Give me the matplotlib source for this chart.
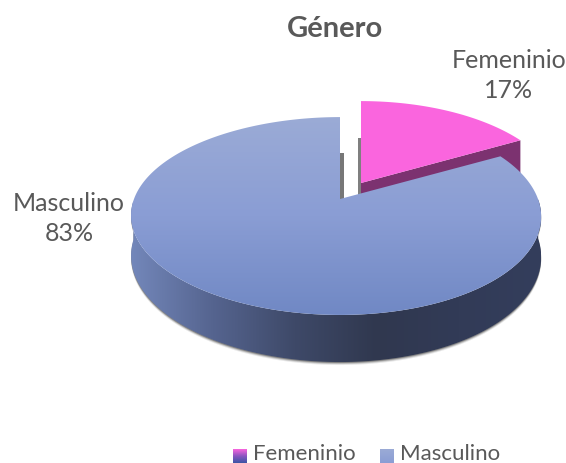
import numpy as np
import matplotlib
matplotlib.use("Agg")
import matplotlib.pyplot as plt
from matplotlib.colors import LinearSegmentedColormap
from matplotlib.patches import Polygon

generos = ["Femeninio", "Masculino"]
porcentajes = [17, 83]
titulo = "Género"

plt.rcParams['font.family'] = ['Lato', 'DejaVu Sans']
gris = "#595959"

fig = plt.figure(figsize=(5.66, 4.63), dpi=100)
ax = fig.add_axes([0, 0, 1, 1])

# the pie only gives the angles, the 3d look is drawn from them below
wedges, _ = ax.pie(porcentajes, startangle=90, counterclock=False)
angulos = [(w.theta1, w.theta2) for w in wedges]
for w in wedges:
    w.remove()

ax.set_aspect('auto')
ax.set_xlim(0, 566)
ax.set_ylim(463, 0)
ax.axis('off')

k = -0.172
A = 96
B = 202
H = 39


def proyectar(u, v, cx, cy, alto=0, encoger=4):
    # u right, v down on the unit circle, perspective on v
    w = 1 + k * v
    x = cx + B * u / w - encoger * (1 - v ** 2)
    y = cy + (A * v + alto) / w
    return x, y


def arco(t1, t2, n=300):
    t = np.radians(np.linspace(t1, t2, n))
    return np.cos(t), -np.sin(t)


def degradado(poly, colores, extent, vertical=True, z=1):
    cmap = LinearSegmentedColormap.from_list("g", colores)
    g = np.linspace(0, 1, 256)
    g = g.reshape(-1, 1) if vertical else g.reshape(1, -1)
    im = ax.imshow(g, cmap=cmap, extent=extent, aspect='auto', zorder=z, origin='upper')
    parche = Polygon(poly, closed=True, transform=ax.transData, fc='none', ec='none')
    ax.add_patch(parche)
    im.set_clip_path(parche)


fem, mas = angulos
fem_c = (361, 183)
mas_c = (340, 199)

# feminine side wall and top
u, v = arco(*fem)
xt, yt = proyectar(u * 0.975, v, *fem_c, encoger=0)
xr, yr = xt[0], yt[0]
ax.add_patch(Polygon([fem_c, (xr, yr), (xr, yr + 36), (fem_c[0], fem_c[1] + 36)],
                     fc="#7C3270", ec='none', zorder=1))
ax.add_patch(Polygon(np.column_stack([np.r_[fem_c[0], xt], np.r_[fem_c[1], yt]]),
                     fc="#FA65DE", ec='none', zorder=2))
ax.add_patch(Polygon([(358, 138), (361, 138), (361, 196), (358, 196)], fc="#7f7f7f", ec='none', zorder=2))

# masculine shadow, wall (front half only) and top
u, v = arco(*mas)
xt, yt = proyectar(u, v, *mas_c)
xb, yb = proyectar(u, v, *mas_c, alto=H)
frente = v >= 0
orden = np.argsort(u[frente])
xtf, ytf = xt[frente][orden], yt[frente][orden]
xbf, ybf = xb[frente][orden], yb[frente][orden]
pared = np.column_stack([np.r_[xtf, xbf[::-1]], np.r_[ytf, ybf[::-1]]])
for i, alfa in zip([3, 2, 1], [0.12, 0.25, 0.45]):
    ax.add_patch(Polygon(pared + [0, i], fc="#404040", alpha=alfa, ec='none', zorder=3))
degradado(pared, ["#7387BA", "#55648F", "#3E4968", "#30384F", "#323B57", "#343E5C"], [131, 541, 370, 100], vertical=False, z=4)
ax.add_patch(Polygon([(340, 153), (344, 153), (344, 205), (340, 205)], fc="#777777", ec='none', zorder=4))
tapa = np.column_stack([np.r_[mas_c[0], xt], np.r_[mas_c[1], yt]])
degradado(tapa, ["#9BABD6", "#8A9DD4", "#7088C4"], [125, 545, 316, 116], z=5)

ax.text(334.5, 29, titulo, ha='center', va='center', fontsize=21, fontweight='bold', color=gris)
ax.text(509, 75.5, f"{generos[0]}\n{porcentajes[0]}%", ha='center', va='center', fontsize=18,
        color=gris, linespacing=1.4)
ax.text(69, 218.5, f"{generos[1]}\n{porcentajes[1]}%", ha='center', va='center', fontsize=18,
        color=gris, linespacing=1.4)

# legend, cut by the bottom of the picture as in the original
degradado([(233, 449), (247, 449), (247, 463), (233, 463)], ["#FA65DE", "#8A55C0", "#3A55A5"], [233, 247, 463, 449], z=6)
degradado([(380, 449), (394, 449), (394, 463), (380, 463)], ["#9BABD6", "#8A9DD4"], [380, 394, 463, 449], z=6)
ax.text(253, 453.5, generos[0], ha='left', va='center', fontsize=16, color=gris)
ax.text(400, 453.5, generos[1], ha='left', va='center', fontsize=16, color=gris)

ax.set_xlim(0, 566)
ax.set_ylim(463, 0)
fig.savefig("out.png", dpi=100)
